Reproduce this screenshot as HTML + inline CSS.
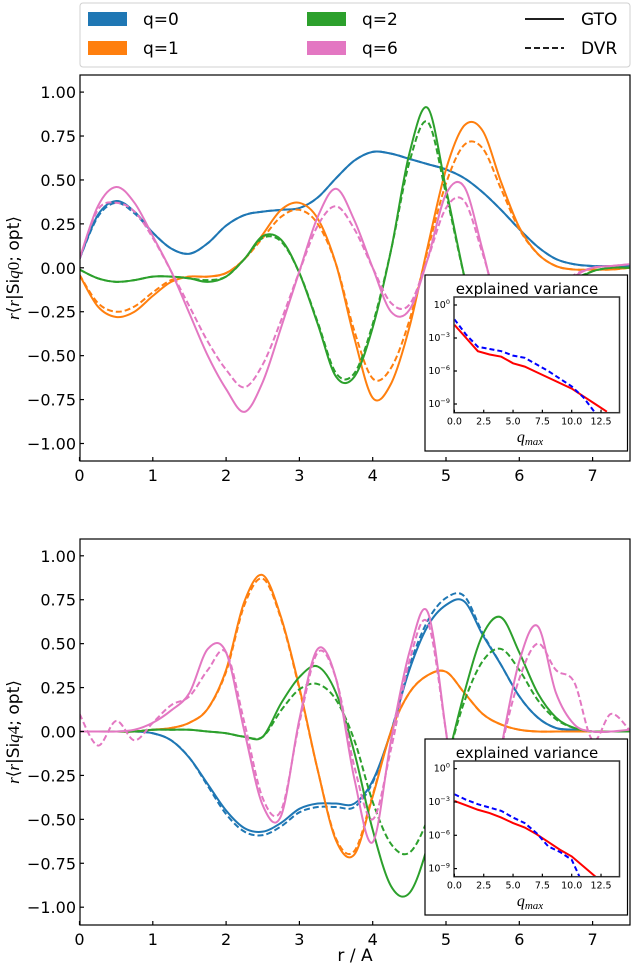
<!DOCTYPE html>
<html><head><meta charset="utf-8"><style>
html,body{margin:0;padding:0;background:#fff;}
svg{display:block;font-family:"DejaVu Sans","Liberation Sans",sans-serif;}
</style></head><body>
<svg id="fig" width="632" height="966" viewBox="0 0 632 966" xmlns="http://www.w3.org/2000/svg">
<defs>
<clipPath id="clipTop"><rect x="80" y="75" width="550" height="386"/></clipPath>
<clipPath id="clipBot"><rect x="80" y="539" width="550" height="386"/></clipPath>
<clipPath id="clipInTop"><rect x="454" y="297" width="166" height="116"/></clipPath>
<clipPath id="clipInBot"><rect x="454" y="761" width="166" height="116"/></clipPath>
</defs>
<g>
<rect x="80" y="3" width="550" height="64" rx="3" fill="#fff" stroke="#d0d0d0" stroke-width="1"/>
<rect x="88" y="12" width="39" height="14" fill="#1f77b4"/>
<text x="143" y="25" font-size="17">q=0</text>
<rect x="88" y="41" width="39" height="14" fill="#ff7f0e"/>
<text x="143" y="54" font-size="17">q=1</text>
<rect x="307" y="12" width="39" height="14" fill="#2ca02c"/>
<text x="362" y="25" font-size="17">q=2</text>
<rect x="307" y="41" width="39" height="14" fill="#e377c2"/>
<text x="362" y="54" font-size="17">q=6</text>
<line x1="525" y1="19" x2="564" y2="19" stroke="#000" stroke-width="1.8"/>
<text x="581" y="25" font-size="17">GTO</text>
<line x1="525" y1="48" x2="564" y2="48" stroke="#000" stroke-width="1.8" stroke-dasharray="6,3"/>
<text x="581" y="54" font-size="17">DVR</text>
</g>
<text x="355" y="961" font-size="17" text-anchor="middle">r / A</text>
</svg>
<script>
const rGrid = [0,0.25,0.5,0.75,1,1.25,1.5,1.75,2,2.25,2.5,2.75,3,3.25,3.5,3.75,4,4.25,4.5,4.75,5,5.25,5.5,5.75,6,6.25,6.5,6.75,7,7.25,7.5];
// top panel (q0)
const topBlueGTO = [.05,.30,.38,.32,.20,.11,.08,.14,.24,.30,.32,.33,.34,.40,.51,.61,.66,.65,.62,.59,.56,.51,.43,.33,.22,.12,.05,.02,.01,.01,.01];
const topBlueDVR = [.05,.29,.37,.31,.20,.11,.08,.14,.24,.30,.32,.33,.34,.40,.51,.61,.66,.65,.62,.59,.56,.51,.43,.33,.22,.12,.05,.02,.01,.01,.01];
const topOrangeGTO = [-.04,-.22,-.28,-.25,-.16,-.08,-.05,-.05,-.03,.05,.19,.33,.37,.28,.02,-.40,-.74,-.66,-.34,.12,.56,.81,.78,.49,.23,.08,.01,-.01,-.01,-.01,0];
const topOrangeDVR = [-.04,-.20,-.25,-.22,-.14,-.07,-.05,-.05,-.03,.05,.17,.29,.33,.25,.02,-.36,-.63,-.57,-.30,.10,.48,.70,.68,.45,.22,.08,.01,-.01,-.01,-.01,0];
const topGreenGTO = [-.01,-.06,-.08,-.07,-.05,-.05,-.06,-.08,-.05,.05,.18,.16,-.03,-.32,-.62,-.62,-.34,.10,.65,.91,.45,-.05,-.50,-.60,-.50,-.35,-.20,-.08,-.02,0,0];
const topGreenDVR = [-.01,-.06,-.08,-.07,-.05,-.05,-.06,-.07,-.05,.05,.17,.15,-.03,-.31,-.60,-.60,-.32,.10,.60,.83,.42,-.05,-.45,-.55,-.45,-.30,-.18,-.07,-.02,0,0];
const topPinkGTO = [.05,.35,.46,.37,.18,-.02,-.26,-.50,-.69,-.82,-.65,-.34,-.02,.29,.45,.27,.00,-.25,-.24,.05,.42,.46,.10,-.30,-.40,-.30,-.15,-.05,0,.01,.02];
const topPinkDVR = [.05,.33,.37,.32,.17,-.02,-.22,-.42,-.58,-.68,-.55,-.30,-.02,.24,.35,.22,.00,-.20,-.21,.05,.34,.38,.08,-.25,-.35,-.25,-.12,-.04,0,.01,.02];
// bottom panel (q4)
const botBlueGTO = [0,0,0,0,-.01,-.05,-.15,-.30,-.45,-.55,-.57,-.52,-.44,-.41,-.41,-.41,-.28,.00,.35,.60,.72,.74,.55,.38,.20,.08,.02,.01,0,0,0];
const botBlueDVR = [0,0,0,0,-.01,-.05,-.15,-.31,-.47,-.57,-.59,-.54,-.46,-.43,-.43,-.43,-.29,.00,.37,.63,.76,.77,.56,.38,.20,.08,.02,.01,0,0,0];
const botOrangeGTO = [0,0,0,0,.01,.02,.05,.13,.35,.74,.89,.65,.25,-.22,-.62,-.70,-.37,.00,.22,.32,.34,.22,.10,.04,.01,0,0,0,0,0,0];
const botOrangeDVR = [0,0,0,0,.01,.02,.05,.13,.34,.72,.87,.64,.24,-.22,-.61,-.68,-.36,.00,.22,.32,.34,.22,.10,.04,.01,0,0,0,0,0,0];
const botGreenGTO = [0,0,0,0,.01,.01,.01,0,-.01,-.03,-.03,.16,.31,.37,.22,-.12,-.56,-.88,-.92,-.65,-.20,.22,.55,.65,.45,.22,.08,.02,0,0,0];
const botGreenDVR = [0,0,0,0,.01,.01,.01,0,-.01,-.03,-.03,.12,.24,.27,.18,-.05,-.40,-.64,-.69,-.50,-.18,.17,.40,.47,.35,.18,.07,.02,0,0,0];
const botPinkGTO = [0,0,0,.01,.05,.12,.22,.47,.45,.00,-.42,-.48,.07,.47,.30,-.27,-.63,-.05,.45,.68,.00,-.80,-.70,-.10,.40,.60,.22,.04,0,0,.01];
const botPinkDVR = [.10,-.08,.06,-.05,.05,.15,.20,.35,.45,.05,-.38,-.45,.05,.45,.30,-.20,-.50,-.10,.40,.62,0,-.70,-.60,-.10,.30,.50,.35,.28,-.05,.10,.01];
// insets: log10 explained variance vs q_max
const qMax = [0,1,2,3,4,5,6,7,8,9,10,11,12,13];
const insTopGTO = [-1.8,-3.0,-4.2,-4.5,-4.7,-5.3,-5.6,-6.1,-6.6,-7.1,-7.6,-8.3,-9.0,-9.7];
const insTopDVR = [-1.3,-2.7,-3.8,-4.0,-4.2,-4.6,-4.8,-5.4,-6.0,-6.7,-7.4,-8.4,-9.8,-11];
const insBotGTO = [-2.9,-3.3,-3.7,-4.0,-4.4,-4.9,-5.3,-5.9,-6.6,-7.3,-7.9,-8.8,-9.7,-10.6];
const insBotDVR = [-2.3,-2.8,-3.2,-3.5,-3.8,-4.4,-4.9,-5.8,-7.0,-7.5,-8.2,-10.5,-12,-13];
const yTickLabels = ["1.00","0.75","0.50","0.25","0.00","\u22120.25","\u22120.50","\u22120.75","\u22121.00"];
const yTickValues = [1,0.75,0.5,0.25,0,-0.25,-0.5,-0.75,-1];
const xTickValues = [0,1,2,3,4,5,6,7];
const inXTicks = [0,2.5,5,7.5,10,12.5];
const inXTickLabels = ["0.0","2.5","5.0","7.5","10.0","12.5"];
const inYTicks = [0,-3,-6,-9];

const NS = "http://www.w3.org/2000/svg";
const svg = document.getElementById('fig');
function mk(tag, attrs, parent){const e=document.createElementNS(NS,tag);for(const k in attrs)e.setAttribute(k,attrs[k]);(parent||svg).appendChild(e);return e;}
function smoothPath(pts){
  let d="M"+pts[0][0].toFixed(2)+","+pts[0][1].toFixed(2);
  for(let i=0;i<pts.length-1;i++){
    const p0=pts[i-1]||pts[i],p1=pts[i],p2=pts[i+1],p3=pts[i+2]||pts[i+1];
    const c1=[p1[0]+(p2[0]-p0[0])/6,p1[1]+(p2[1]-p0[1])/6];
    const c2=[p2[0]-(p3[0]-p1[0])/6,p2[1]-(p3[1]-p1[1])/6];
    d+="C"+c1[0].toFixed(2)+","+c1[1].toFixed(2)+" "+c2[0].toFixed(2)+","+c2[1].toFixed(2)+" "+p2[0].toFixed(2)+","+p2[1].toFixed(2);
  }
  return d;
}
function panel(cfg){
  const L=80,R=630,T=cfg.top,B=cfg.top+386;
  const xS=r=>79.5+r*73.3;
  const yS=v=>cfg.y0-v*175.7;
  const g=mk('g',{});  
  const cg=mk('g',{'clip-path':'url(#'+cfg.clip+')'},g);
   
  cfg.series.forEach(s=>{
    const pts=rGrid.map((r,i)=>[xS(r),yS(s.data[i])]);
    const p=mk('path',{d:smoothPath(pts),fill:'none',stroke:s.color,'stroke-width':2,'stroke-linejoin':'round'},cg);
    if(s.dash)p.setAttribute('stroke-dasharray','6,3');
    
    
  });
  const fr=mk('rect',{x:L,y:T,width:R-L,height:B-T,fill:'none',stroke:'#000','stroke-width':1.2},g);
   
  yTickValues.forEach((v,i)=>{
    const y=yS(v);
    mk('line',{x1:L,y1:y,x2:L+4,y2:y,stroke:'#000','stroke-width':1.2},g);
    const t=mk('text',{x:L-4,y:y+6,'font-size':16,'text-anchor':'end'},g);
    t.textContent=yTickLabels[i];
     
  });
  xTickValues.forEach(v=>{
    const x=xS(v);
    mk('line',{x1:x,y1:B,x2:x,y2:B-4,stroke:'#000','stroke-width':1.2},g);
    const t=mk('text',{x:x,y:B+20,'font-size':16,'text-anchor':'middle'},g);
    t.textContent=String(v);
     
  });
  const cy=(T+B)/2;
  const yl=mk('text',{x:0,y:0,'font-size':17,'text-anchor':'middle',transform:'translate(19,'+cy+') rotate(-90)'},g);
  yl.innerHTML='<tspan font-family="Liberation Serif" font-style="italic">r</tspan>\u27E8<tspan font-family="Liberation Serif" font-style="italic">r</tspan>|Si<tspan font-family="Liberation Serif" font-style="italic">q</tspan><tspan font-family="Liberation Serif">'+cfg.qn+'</tspan>; opt\u27E9';
   
  // inset
  const ig=mk('g',{},g);  
  const bT=cfg.inTop;
  mk('rect',{x:425,y:bT,width:202.5,height:176,fill:'#fff',stroke:'#000','stroke-width':1.2},ig);
  const it=mk('text',{x:527,y:bT+19,'font-size':15,'text-anchor':'middle'},ig);
  it.textContent='explained variance';  
  const iL=454,iR=619.5,iT=bT+22,iB=bT+137.7;
  const ix=q=>454.4+q*11.73;
  const iy=v=>cfg.inY0-v*cfg.dec;
  const icg=mk('g',{'clip-path':'url(#'+cfg.inClip+')'},ig);
  [[cfg.inG,'#ff0000',false,'inset-gto-line'],[cfg.inD,'#0000ff',true,'inset-dvr-line']].forEach(s=>{
    const d=qMax.map((q,i)=>(i?'L':'M')+ix(q).toFixed(2)+','+iy(s[0][i]).toFixed(2)).join('');
    const p=mk('path',{d:d,fill:'none',stroke:s[1],'stroke-width':2},icg);
    if(s[2])p.setAttribute('stroke-dasharray','5,3');
     
  });
  mk('rect',{x:iL,y:iT,width:iR-iL,height:iB-iT,fill:'none',stroke:'#333','stroke-width':1.5},ig);
  inXTicks.forEach((v,i)=>{
    const x=ix(v);
    mk('line',{x1:x,y1:iB,x2:x,y2:iB-3,stroke:'#000','stroke-width':1.2},ig);
    const t=mk('text',{x:x,y:iB+12,'font-size':9.5,'text-anchor':'middle'},ig);
    t.textContent=inXTickLabels[i];  
  });
  inYTicks.forEach(v=>{
    const y=iy(v);
    mk('line',{x1:iL,y1:y,x2:iL+3,y2:y,stroke:'#000','stroke-width':1.2},ig);
    const t=mk('text',{x:iL-4,y:y+3,'font-size':9.5,'text-anchor':'end'},ig);
    t.innerHTML='10<tspan dy="-4" font-size="6.5">'+(v<0?'\u2212'+(-v):v)+'</tspan>';
     
  });
  const xl=mk('text',{x:530,y:bT+167,'font-size':16,'text-anchor':'middle','font-family':'Liberation Serif','font-style':'italic'},ig);
  xl.innerHTML='q<tspan dy="3" font-size="11">max</tspan>';
   
}
const C={b:'#1f77b4',o:'#ff7f0e',g:'#2ca02c',p:'#e377c2'};
panel({name:'top-panel',top:75,y0:267.8,clip:'clipTop',qn:'0',inTop:275,inY0:305,dec:11,inClip:'clipInTop',inG:insTopGTO,inD:insTopDVR,
 series:[
  {data:topBlueDVR,color:C.b,dash:true,name:'top-q0-dvr'},{data:topBlueGTO,color:C.b,name:'top-q0-gto'},
  {data:topOrangeDVR,color:C.o,dash:true,name:'top-q1-dvr'},{data:topOrangeGTO,color:C.o,name:'top-q1-gto'},
  {data:topGreenDVR,color:C.g,dash:true,name:'top-q2-dvr'},{data:topGreenGTO,color:C.g,name:'top-q2-gto'},
  {data:topPinkDVR,color:C.p,dash:true,name:'top-q6-dvr'},{data:topPinkGTO,color:C.p,name:'top-q6-gto'}]});
panel({name:'bottom-panel',top:539,y0:731.5,clip:'clipBot',qn:'4',inTop:739,inY0:768.7,dec:11.1,inClip:'clipInBot',inG:insBotGTO,inD:insBotDVR,
 series:[
  {data:botBlueDVR,color:C.b,dash:true,name:'bottom-q0-dvr'},{data:botBlueGTO,color:C.b,name:'bottom-q0-gto'},
  {data:botOrangeDVR,color:C.o,dash:true,name:'bottom-q1-dvr'},{data:botOrangeGTO,color:C.o,name:'bottom-q1-gto'},
  {data:botGreenDVR,color:C.g,dash:true,name:'bottom-q2-dvr'},{data:botGreenGTO,color:C.g,name:'bottom-q2-gto'},
  {data:botPinkDVR,color:C.p,dash:true,name:'bottom-q6-dvr'},{data:botPinkGTO,color:C.p,name:'bottom-q6-gto'}]});
</script>
</body></html>
